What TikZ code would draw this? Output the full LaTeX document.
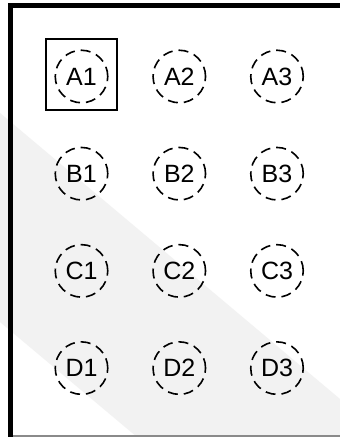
\documentclass[tikz,border=0pt]{standalone}
\usepackage{fontspec}
\setmainfont{Liberation Sans}
\definecolor{bandgray}{HTML}{F2F2F2}
\definecolor{edgegray}{HTML}{8A8A8A}
\newcommand{\cellfont}{\fontsize{25}{28}\selectfont}
\tikzset{
  cell/.style={circle, draw=black, line width=1.6pt, dash pattern=on 10pt off 6pt,
    minimum size=52.5pt, inner sep=0pt, font=\cellfont},
  selbox/.style={draw=black, line width=1.6pt, minimum size=70.5pt, inner sep=0pt},
}
\begin{document}
\begin{tikzpicture}[x=1pt,y=-1pt]
\useasboundingbox (0,0) rectangle (340,437);
\fill[white] (0,0) rectangle (340,437);
% light diagonal band
\fill[bandgray] (0,113) -- (340,399) -- (340,437) -- (137,437) -- (0,322) -- cycle;
% frame
\coordinate (tl) at (10.5,5.5);
\coordinate (tr) at (340,5.5);
\coordinate (bl) at (10.5,437);
\coordinate (bbl) at (10.5,436);
\coordinate (bbr) at (340,436);
\draw[edgegray, line width=1.5pt] (bbl) -- (bbr);
\draw[black, line width=5pt] ([xshift=-2.5pt]tl) -- (tr);
\draw[black, line width=5pt] ([yshift=-2.5pt]tl) -- (bl);
% cells
\foreach \r/\y in {A/76.5,B/173.7,C/270.9,D/368.1}{
  \foreach \c/\x in {1/81.5,2/179.3,3/277}{
    \node[cell] (\r\c) at (\x,\y) {\r\c};
  }
}
\node[selbox] (A1frame) at (81.5,74.5) {};
\end{tikzpicture}
\end{document}
